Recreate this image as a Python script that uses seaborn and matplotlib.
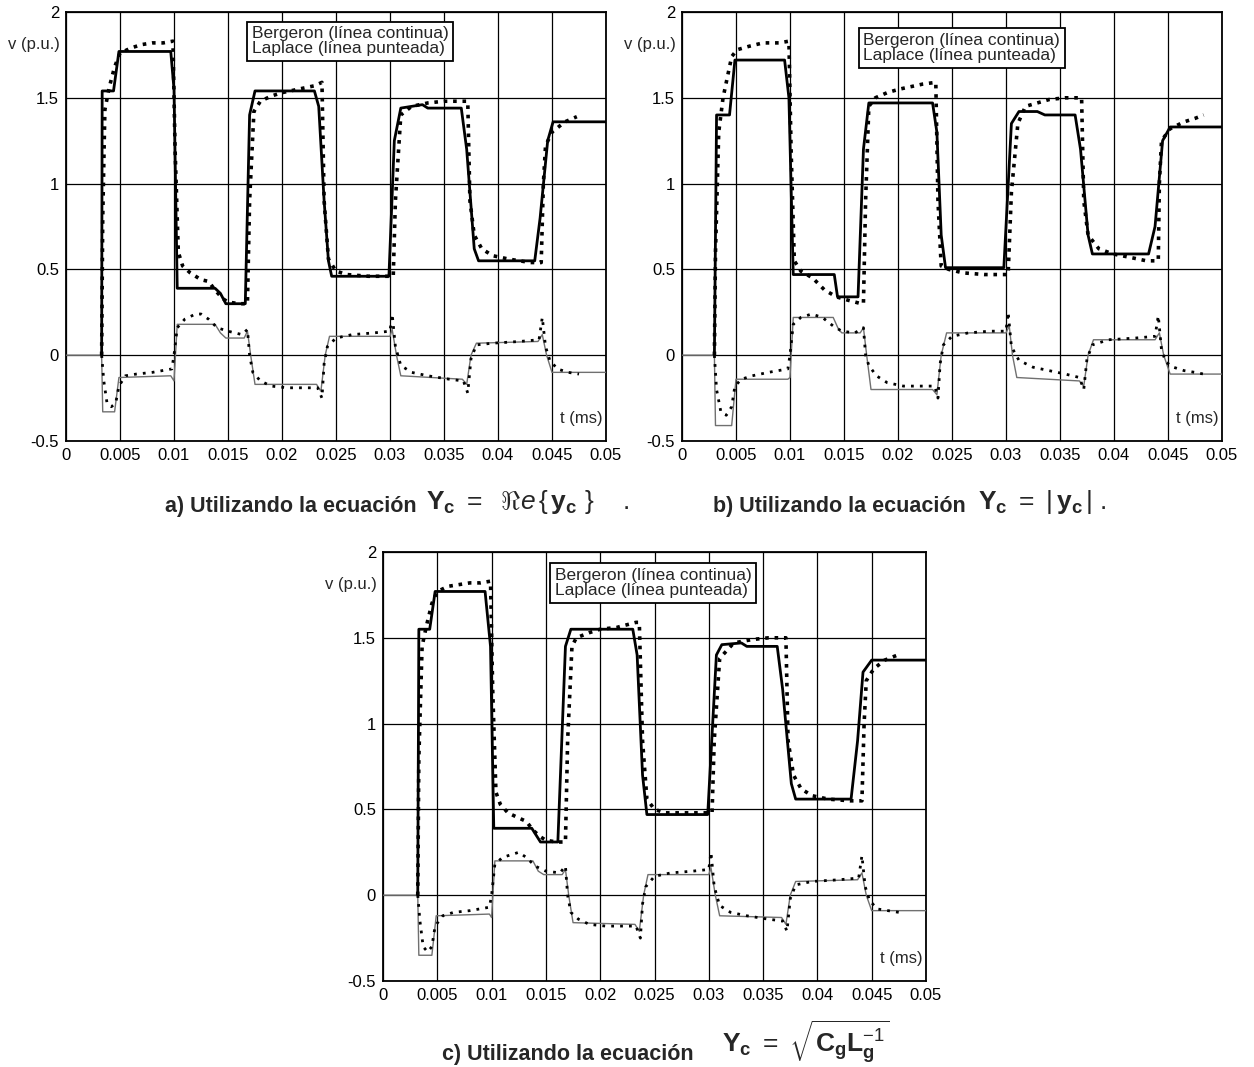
import numpy as np
import pandas as pd
import matplotlib
matplotlib.use("Agg")
import matplotlib.pyplot as plt
import seaborn as sns

sns.set_style("white")
plt.rcParams['font.family'] = ['Liberation Sans', 'DejaVu Sans']
plt.rcParams['axes.unicode_minus'] = False
plt.rcParams['mathtext.fontset'] = 'custom'
plt.rcParams['mathtext.rm'] = 'Liberation Sans'
plt.rcParams['mathtext.bf'] = 'Liberation Sans:bold'
plt.rcParams['mathtext.it'] = 'Liberation Sans:italic'

# ---------------- axis ticks ----------------
x_ticks = [0, 0.005, 0.01, 0.015, 0.02, 0.025, 0.03, 0.035, 0.04, 0.045, 0.05]
x_tick_labels = ["0", "0.005", "0.01", "0.015", "0.02", "0.025", "0.03", "0.035", "0.04", "0.045", "0.05"]
y_ticks = [-0.5, 0, 0.5, 1, 1.5, 2]
y_tick_labels = ["-0.5", "0", "0.5", "1", "1.5", "2"]

legend_lines = ["Bergeron (línea continua)", "Laplace (línea punteada)"]
caption_texts = ["a) Utilizando la ecuación", "b) Utilizando la ecuación", "c) Utilizando la ecuación"]
caption_maths = [
    r"$\mathbf{Y}_{\mathbf{c}}\ =\ \ \Re\mathit{e}\,\{\,\mathbf{y}_{\mathbf{c}}\ \}\ \ \ \ .$",
    r"$\mathbf{Y}_{\mathbf{c}}\ =\ |\,\mathbf{y}_{\mathbf{c}}\,|\ .$",
    r"$\mathbf{Y}_{\mathbf{c}}\ =\ \sqrt{\mathbf{C}_{\mathbf{g}}\mathbf{L}_{\mathbf{g}}^{-1}}$",
]

# ---------------- panel a ----------------
a_berg_t = [0.0033, 0.00335, 0.0044, 0.0049, 0.0097, 0.0100, 0.0103, 0.0138, 0.0143, 0.0148, 0.0166, 0.0170,
            0.0175, 0.0230, 0.0234, 0.0239, 0.0243, 0.0246, 0.0299, 0.0304, 0.0310, 0.0330, 0.0335, 0.0366, 0.0371,
            0.0378, 0.0382, 0.0434, 0.0439, 0.0446, 0.0451, 0.0500]
a_berg_v = [0, 1.54, 1.54, 1.77, 1.77, 1.55, 0.39, 0.39, 0.36, 0.30, 0.30, 1.40,
            1.54, 1.54, 1.45, 0.90, 0.55, 0.46, 0.46, 1.25, 1.44, 1.46, 1.44, 1.44, 1.20,
            0.62, 0.55, 0.55, 0.80, 1.25, 1.36, 1.36]
a_lap_t = [0.0033, 0.0034, 0.0036, 0.0040, 0.0045, 0.0050, 0.0060, 0.0070, 0.0080, 0.0090, 0.0099, 0.0101, 0.0104,
           0.0108, 0.0115, 0.0125, 0.0132, 0.0138, 0.0145, 0.0150, 0.0160, 0.0168, 0.0170, 0.0174, 0.0180, 0.0190,
           0.0200, 0.0215, 0.0230, 0.0237, 0.0239, 0.0243, 0.0250, 0.0260, 0.0280, 0.0303, 0.0305, 0.0310, 0.0320,
           0.0335, 0.0350, 0.0372, 0.0374, 0.0378, 0.0385, 0.0395, 0.0410, 0.0430, 0.0440, 0.0442, 0.0444, 0.0450,
           0.0462, 0.0473]
a_lap_v = [0.0, 0.80, 1.43, 1.56, 1.68, 1.76, 1.79, 1.81, 1.82, 1.82, 1.83, 1.20, 0.60,
           0.52, 0.48, 0.44, 0.43, 0.38, 0.33, 0.31, 0.30, 0.30, 0.90, 1.42, 1.48, 1.51,
           1.53, 1.55, 1.57, 1.59, 0.90, 0.56, 0.49, 0.47, 0.46, 0.46, 0.90, 1.40, 1.45,
           1.47, 1.48, 1.48, 0.90, 0.70, 0.62, 0.58, 0.56, 0.54, 0.54, 1.00, 1.22, 1.30,
           1.36, 1.39]
a_bsm_t = [0, 0.0033, 0.0034, 0.0045, 0.0049, 0.0097, 0.0100, 0.0103, 0.0138, 0.0143, 0.0148, 0.0165, 0.0168,
           0.0171, 0.0175, 0.0232, 0.0236, 0.0240, 0.0244, 0.0300, 0.0302, 0.0306, 0.0310, 0.0367, 0.0371, 0.0375,
           0.0380, 0.0437, 0.0441, 0.0445, 0.0450, 0.0500]
a_bsm_v = [0, 0, -0.33, -0.33, -0.13, -0.12, -0.15, 0.18, 0.18, 0.13, 0.10, 0.10, 0.14,
           0.0, -0.17, -0.17, -0.21, 0.0, 0.11, 0.11, 0.15, 0.0, -0.12, -0.14, -0.17, 0.0,
           0.07, 0.08, 0.12, 0.0, -0.10, -0.10]
a_lsm_t = [0.0033, 0.0035, 0.0038, 0.0042, 0.0046, 0.0049, 0.0055, 0.0065, 0.0080, 0.0098, 0.0100, 0.0103, 0.0110,
           0.0120, 0.0125, 0.0132, 0.0140, 0.0150, 0.0163, 0.0168, 0.0170, 0.0173, 0.0180, 0.0190, 0.0205, 0.0220,
           0.0233, 0.0237, 0.0239, 0.0242, 0.0250, 0.0265, 0.0285, 0.0300, 0.0302, 0.0305, 0.0310, 0.0320, 0.0335,
           0.0355, 0.0368, 0.0372, 0.0375, 0.0380, 0.0395, 0.0420, 0.0438, 0.0441, 0.0444, 0.0448, 0.0455, 0.0465,
           0.0475]
a_lsm_v = [0, -0.15, -0.28, -0.30, -0.28, -0.18, -0.12, -0.11, -0.10, -0.08, 0.0, 0.16, 0.21,
           0.24, 0.24, 0.21, 0.16, 0.14, 0.12, 0.15, 0.0, -0.10, -0.15, -0.18, -0.19, -0.19,
           -0.19, -0.25, -0.05, 0.05, 0.10, 0.12, 0.13, 0.14, 0.24, 0.05, -0.06, -0.10, -0.12,
           -0.14, -0.15, -0.22, -0.02, 0.06, 0.07, 0.08, 0.09, 0.22, 0.05, -0.03, -0.08, -0.10,
           -0.11]

# ---------------- panel b ----------------
b_berg_t = [0.0030, 0.0032, 0.0044, 0.0049, 0.0095, 0.0099, 0.0103, 0.0141, 0.0144, 0.0163, 0.0168, 0.0173,
            0.0232, 0.0236, 0.0240, 0.0244, 0.0298, 0.0305, 0.0312, 0.0329, 0.0336, 0.0364, 0.0369, 0.0376, 0.0380,
            0.0432, 0.0438, 0.0445, 0.0452, 0.0500]
b_berg_v = [0, 1.40, 1.40, 1.72, 1.72, 1.50, 0.47, 0.47, 0.34, 0.34, 1.20, 1.47,
            1.47, 1.30, 0.70, 0.51, 0.51, 1.35, 1.42, 1.42, 1.40, 1.40, 1.20, 0.70, 0.59,
            0.59, 0.75, 1.25, 1.33, 1.33]
b_lap_t = [0.0030, 0.0031, 0.0034, 0.0038, 0.0042, 0.0046, 0.0051, 0.0062, 0.0075, 0.0090, 0.0099, 0.0101, 0.0104,
           0.0110, 0.0121, 0.0132, 0.0143, 0.0154, 0.0166, 0.0168, 0.0170, 0.0173, 0.0179, 0.0190, 0.0201, 0.0223,
           0.0235, 0.0237, 0.0240, 0.0247, 0.0260, 0.0280, 0.0300, 0.0302, 0.0305, 0.0311, 0.0318, 0.0340, 0.0355,
           0.0370, 0.0372, 0.0376, 0.0386, 0.0399, 0.0415, 0.0430, 0.0441, 0.0442, 0.0444, 0.0452, 0.0465, 0.0475,
           0.0483]
b_lap_v = [0, 0.60, 1.30, 1.50, 1.62, 1.74, 1.78, 1.80, 1.82, 1.82, 1.83, 1.20, 0.55,
           0.49, 0.45, 0.38, 0.34, 0.32, 0.30, 0.30, 0.90, 1.45, 1.50, 1.53, 1.55, 1.58,
           1.59, 0.90, 0.52, 0.50, 0.48, 0.47, 0.47, 0.47, 0.95, 1.35, 1.45, 1.49, 1.50,
           1.50, 0.90, 0.70, 0.62, 0.59, 0.57, 0.55, 0.55, 1.00, 1.25, 1.32, 1.36, 1.38,
           1.40]
b_bsm_t = [0, 0.0030, 0.0031, 0.0046, 0.0050, 0.0098, 0.0100, 0.0103, 0.0140, 0.0145, 0.0148, 0.0165, 0.0168,
           0.0171, 0.0175, 0.0232, 0.0236, 0.0240, 0.0245, 0.0300, 0.0303, 0.0306, 0.0310, 0.0368, 0.0372, 0.0376,
           0.0381, 0.0438, 0.0442, 0.0446, 0.0452, 0.0500]
b_bsm_v = [0, 0, -0.41, -0.41, -0.14, -0.14, -0.13, 0.22, 0.22, 0.15, 0.13, 0.13, 0.16,
           0.0, -0.20, -0.20, -0.23, 0.0, 0.13, 0.13, 0.17, 0.0, -0.13, -0.15, -0.18, 0.0,
           0.09, 0.09, 0.13, 0.0, -0.11, -0.11]
b_lsm_t = [0.0030, 0.0032, 0.0036, 0.0041, 0.0046, 0.0049, 0.0055, 0.0065, 0.0080, 0.0098, 0.0100, 0.0103, 0.0110,
           0.0120, 0.0130, 0.0140, 0.0148, 0.0160, 0.0168, 0.0170, 0.0173, 0.0180, 0.0190, 0.0205, 0.0220, 0.0234,
           0.0237, 0.0239, 0.0242, 0.0250, 0.0265, 0.0285, 0.0300, 0.0302, 0.0305, 0.0312, 0.0325, 0.0340, 0.0355,
           0.0368, 0.0372, 0.0375, 0.0380, 0.0395, 0.0420, 0.0438, 0.0441, 0.0444, 0.0448, 0.0455, 0.0465, 0.0475,
           0.0483]
b_lsm_v = [0, -0.20, -0.33, -0.35, -0.30, -0.18, -0.14, -0.12, -0.10, -0.08, 0.0, 0.18, 0.22,
           0.24, 0.22, 0.17, 0.14, 0.13, 0.16, 0.0, -0.06, -0.12, -0.16, -0.18, -0.18, -0.18,
           -0.25, -0.05, 0.06, 0.11, 0.13, 0.14, 0.14, 0.25, 0.05, -0.03, -0.07, -0.09, -0.11,
           -0.13, -0.20, -0.02, 0.06, 0.09, 0.10, 0.11, 0.23, 0.03, -0.04, -0.07, -0.09, -0.10,
           -0.11]

# ---------------- panel c ----------------
c_berg_t = [0.0032, 0.0033, 0.0043, 0.0048, 0.0094, 0.0099, 0.0102, 0.0137, 0.0141, 0.0145, 0.0161, 0.0168,
            0.0173, 0.0230, 0.0234, 0.0239, 0.0243, 0.0299, 0.0307, 0.0312, 0.0330, 0.0335, 0.0363, 0.0368, 0.0376,
            0.0380, 0.0431, 0.0437, 0.0442, 0.0450, 0.0500]
c_berg_v = [0, 1.55, 1.55, 1.77, 1.77, 1.45, 0.39, 0.39, 0.35, 0.31, 0.31, 1.45,
            1.55, 1.55, 1.40, 0.70, 0.47, 0.47, 1.40, 1.46, 1.47, 1.45, 1.45, 1.20, 0.65,
            0.56, 0.56, 0.90, 1.30, 1.37, 1.37]
c_lap_t = [0.0032, 0.0033, 0.0036, 0.0040, 0.0045, 0.0050, 0.0060, 0.0070, 0.0080, 0.0090, 0.0099, 0.0101, 0.0104,
           0.0108, 0.0115, 0.0125, 0.0132, 0.0138, 0.0145, 0.0150, 0.0160, 0.0168, 0.0170, 0.0174, 0.0178, 0.0190,
           0.0200, 0.0215, 0.0233, 0.0236, 0.0239, 0.0243, 0.0250, 0.0260, 0.0280, 0.0303, 0.0305, 0.0310, 0.0323,
           0.0340, 0.0355, 0.0371, 0.0373, 0.0378, 0.0385, 0.0395, 0.0410, 0.0430, 0.0441, 0.0443, 0.0445, 0.0452,
           0.0462, 0.0474]
c_lap_v = [0.0, 0.80, 1.45, 1.57, 1.70, 1.77, 1.80, 1.81, 1.82, 1.82, 1.83, 1.20, 0.60,
           0.53, 0.48, 0.45, 0.43, 0.38, 0.34, 0.32, 0.31, 0.31, 0.90, 1.45, 1.50, 1.53,
           1.55, 1.56, 1.59, 1.59, 0.90, 0.56, 0.50, 0.48, 0.48, 0.48, 0.90, 1.38, 1.47,
           1.49, 1.50, 1.50, 0.90, 0.70, 0.62, 0.58, 0.56, 0.55, 0.55, 1.00, 1.25, 1.32,
           1.37, 1.40]
c_bsm_t = [0, 0.0032, 0.0033, 0.0045, 0.0049, 0.0098, 0.0100, 0.0103, 0.0138, 0.0143, 0.0148, 0.0165, 0.0168,
           0.0171, 0.0175, 0.0232, 0.0236, 0.0240, 0.0244, 0.0300, 0.0302, 0.0306, 0.0310, 0.0367, 0.0371, 0.0375,
           0.0380, 0.0437, 0.0441, 0.0445, 0.0450, 0.0500]
c_bsm_v = [0, 0, -0.35, -0.35, -0.12, -0.11, -0.13, 0.20, 0.20, 0.14, 0.12, 0.12, 0.15,
           0.0, -0.16, -0.17, -0.21, 0.0, 0.12, 0.12, 0.16, 0.0, -0.12, -0.13, -0.17, 0.0,
           0.08, 0.09, 0.13, 0.0, -0.09, -0.09]
c_lsm_t = [0.0032, 0.0034, 0.0037, 0.0041, 0.0045, 0.0048, 0.0055, 0.0065, 0.0080, 0.0098, 0.0100, 0.0103, 0.0110,
           0.0120, 0.0125, 0.0132, 0.0140, 0.0150, 0.0163, 0.0168, 0.0170, 0.0173, 0.0180, 0.0190, 0.0205, 0.0220,
           0.0233, 0.0237, 0.0239, 0.0242, 0.0250, 0.0265, 0.0285, 0.0300, 0.0302, 0.0305, 0.0310, 0.0320, 0.0335,
           0.0355, 0.0368, 0.0372, 0.0375, 0.0380, 0.0395, 0.0420, 0.0438, 0.0441, 0.0444, 0.0448, 0.0455, 0.0465,
           0.0475]
c_lsm_v = [0, -0.15, -0.30, -0.33, -0.30, -0.18, -0.12, -0.10, -0.09, -0.07, 0.0, 0.18, 0.22,
           0.24, 0.25, 0.22, 0.17, 0.14, 0.13, 0.17, 0.0, -0.10, -0.14, -0.17, -0.18, -0.18,
           -0.18, -0.25, -0.05, 0.05, 0.11, 0.13, 0.14, 0.15, 0.25, 0.05, -0.06, -0.10, -0.12,
           -0.14, -0.15, -0.21, -0.02, 0.06, 0.08, 0.09, 0.10, 0.23, 0.05, -0.03, -0.08, -0.09,
           -0.10]

panels = [
    dict(berg=(a_berg_t, a_berg_v), lap=(a_lap_t, a_lap_v), bsm=(a_bsm_t, a_bsm_v), lsm=(a_lsm_t, a_lsm_v),
         box_xy=(0.0172, 1.83)),
    dict(berg=(b_berg_t, b_berg_v), lap=(b_lap_t, b_lap_v), bsm=(b_bsm_t, b_bsm_v), lsm=(b_lsm_t, b_lsm_v),
         box_xy=(0.0168, 1.79)),
    dict(berg=(c_berg_t, c_berg_v), lap=(c_lap_t, c_lap_v), bsm=(c_bsm_t, c_bsm_v), lsm=(c_lsm_t, c_lsm_v),
         box_xy=(0.0158, 1.82)),
]

W, H = 1254, 1067
fig = plt.figure(figsize=(W / 100, H / 100), dpi=100)
fig.patch.set_facecolor('white')

ax_rects = [
    (66 / W, (H - 441) / H, 540 / W, 429 / H),
    (682 / W, (H - 441) / H, 540 / W, 429 / H),
    (383 / W, (H - 981) / H, 543 / W, 429 / H),
]
# (text right edge px, text baseline px, math left edge px, math baseline px)
caption_px = [(417, 512, 426, 509), (966, 512, 978, 509), (694, 1060, 722, 1052)]

styles = {
    'berg': dict(color='black', linewidth=2.0, linestyle='-'),
    'lap': dict(color='black', linewidth=2.6, linestyle=(0, (1, 1.6))),
    'bsm': dict(color='#707070', linewidth=1.0, linestyle='-'),
    'lsm': dict(color='black', linewidth=2.0, linestyle=(0, (1, 2.2))),
}

for i, (p, rect) in enumerate(zip(panels, ax_rects)):
    ax = fig.add_axes(rect)
    ax.set_facecolor('white')
    for key in ['bsm', 'lsm', 'berg', 'lap']:
        t, v = p[key]
        df = pd.DataFrame({'t': t, 'v': v})
        sns.lineplot(data=df, x='t', y='v', ax=ax, estimator=None, sort=False,
                     zorder=3, **styles[key])
    ax.set_xlim(0, 0.05)
    ax.set_ylim(-0.5, 2)
    ax.set_xticks(x_ticks)
    ax.set_xticklabels(x_tick_labels)
    ax.set_yticks(y_ticks)
    ax.set_yticklabels(y_tick_labels)
    ax.tick_params(axis='both', direction='in', length=4, width=1, labelsize=12, colors='black', pad=5)
    ax.grid(True, color='black', linewidth=0.9, linestyle='-')
    ax.set_axisbelow(True)
    for s in ax.spines.values():
        s.set_visible(True)
        s.set_color('black')
        s.set_linewidth(1.3)
    ax.set_xlabel('')
    ax.set_ylabel('')
    ax.text(-0.012, 1.81, 'v (p.u.)', transform=ax.get_yaxis_transform(), ha='right', va='center',
            fontsize=12)
    ax.text(0.993, 0.035, 't (ms)', transform=ax.transAxes, ha='right', va='bottom', fontsize=12,
            bbox=dict(boxstyle='square,pad=0.1', facecolor='white', edgecolor='none'), zorder=5)
    bx, by = p['box_xy']
    ax.text(bx, by, legend_lines[0] + "\n" + legend_lines[1], ha='left', va='center', fontsize=12.5,
            linespacing=1.05, zorder=6,
            bbox=dict(boxstyle='square,pad=0.25', facecolor='white', edgecolor='black', linewidth=1.3))
    tx, ty, mx, my = caption_px[i]
    fig.text(tx / W, (H - ty) / H, caption_texts[i], ha='right', va='baseline',
             fontsize=15.5, fontweight='bold')
    fig.text(mx / W, (H - my) / H, caption_maths[i], ha='left', va='baseline',
             fontsize=19)

fig.savefig('out.png', dpi=100, facecolor='white')
